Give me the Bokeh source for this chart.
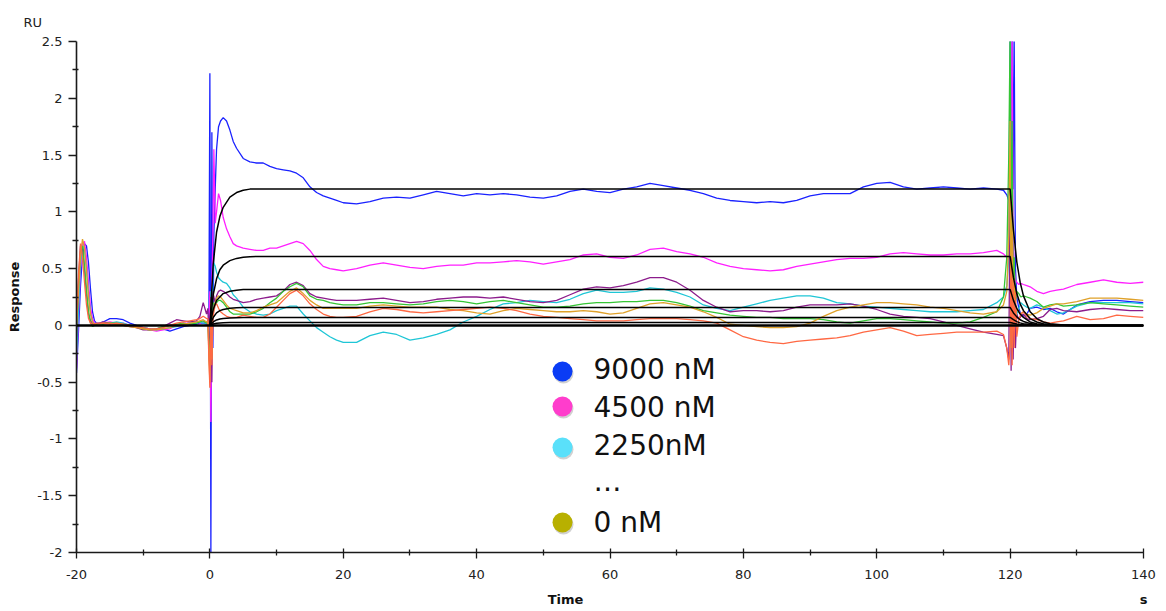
from bokeh.plotting import figure
from bokeh.models import Range1d, FixedTicker, Label, Span, BoxAnnotation, LinearAxis
from bokeh.embed import file_html
from bokeh.resources import INLINE

# ---------------- time grid (s) ----------------
T_PRE = [-20, -19.7, -19.4, -19.1, -18.8, -18.5, -18.2, -17.9, -17.6, -17.3,
         -17, -16.5, -16, -15, -14, -13, -12, -11, -10, -9,
         -8, -7, -6, -5, -4, -3, -2, -1.5, -1, -0.5]
T_INJ = [-0.3, -0.15, 0, 0.15, 0.3, 0.45, 0.6, 0.8, 1.0, 1.3,
         1.6, 2.0, 2.5, 3, 3.5, 4, 5, 6, 7, 8,
         9, 10, 11, 12, 13, 14, 15, 16, 17, 18,
         19, 20]
T_ASC = [22, 24, 26, 28, 30, 32, 34, 36, 38, 40,
         42, 44, 46, 48, 50, 52, 54, 56, 58, 60,
         62, 64, 66, 68, 70, 72, 74, 76, 78, 80,
         82, 84, 86, 88, 90, 92, 94, 96, 98, 100,
         102, 104, 106, 108, 110, 112, 114, 116, 118]
T_DIS = [119, 119.5, 119.8, 120, 120.15, 120.3, 120.45, 120.6, 120.8, 121,
         121.3, 121.6, 122, 122.5, 123, 124, 125, 126, 127, 128,
         130, 132, 134, 136, 138, 140]
TIME = T_PRE + T_INJ + T_ASC + T_DIS

# ---------------- measured responses (RU) ----------------
BLUE = ([-0.42, -0.05, 0.35, 0.62, 0.72, 0.7, 0.55, 0.32, 0.12, 0.04,
         0.02, 0.02, 0.03, 0.06, 0.06, 0.05, 0.02, 0.0, -0.02, -0.03,
         -0.04, -0.03, -0.05, -0.03, -0.01, 0.0, 0.01, 0.02, 0.02, 0.01] +
        [0.02, 0.0, 2.22, -2.0, 1.7, -0.2, 0.8, 1.2, 1.55, 1.75,
         1.8, 1.83, 1.8, 1.72, 1.62, 1.56, 1.47, 1.44, 1.43, 1.43,
         1.4, 1.38, 1.37, 1.36, 1.34, 1.3, 1.22, 1.17, 1.14, 1.12,
         1.1, 1.08] +
        [1.07, 1.09, 1.12, 1.13, 1.12, 1.15, 1.18, 1.16, 1.14, 1.16,
         1.15, 1.16, 1.15, 1.13, 1.12, 1.14, 1.18, 1.2, 1.18, 1.17,
         1.2, 1.22, 1.25, 1.23, 1.21, 1.19, 1.16, 1.12, 1.1, 1.09,
         1.08, 1.09, 1.08, 1.1, 1.14, 1.16, 1.16, 1.16, 1.22, 1.25,
         1.26, 1.22, 1.2, 1.21, 1.22, 1.21, 1.2, 1.21, 1.2] +
        [1.19, 1.15, 1.1, 1.0, 0.9, 2.6, 1.2, 2.6, 0.5, 0.25,
         0.15, 0.1, 0.08, 0.1, 0.15, 0.16, 0.14, 0.15, 0.12, 0.1,
         0.18, 0.21, 0.22, 0.22, 0.21, 0.2])

MAGENTA = ([-0.38, 0.1, 0.5, 0.72, 0.74, 0.6, 0.38, 0.16, 0.06, 0.02,
            0.0, 0.01, 0.02, 0.03, 0.02, 0.02, 0.0, -0.02, -0.03, -0.04,
            -0.05, -0.04, -0.03, 0.0, 0.02, 0.02, 0.03, 0.02, 0.03, 0.02] +
           [0.05, 0.0, 0.3, -0.85, 0.4, 0.8, 1.55, 0.9, 1.0, 1.16,
            1.1, 0.95, 0.85, 0.78, 0.72, 0.7, 0.68, 0.67, 0.66, 0.66,
            0.68, 0.68, 0.7, 0.72, 0.74, 0.72, 0.66, 0.58, 0.52, 0.5,
            0.49, 0.48] +
           [0.5, 0.53, 0.55, 0.53, 0.51, 0.5, 0.52, 0.53, 0.53, 0.55,
            0.55, 0.56, 0.57, 0.56, 0.54, 0.56, 0.58, 0.62, 0.63, 0.6,
            0.59, 0.62, 0.67, 0.68, 0.65, 0.63, 0.6, 0.55, 0.52, 0.5,
            0.49, 0.48, 0.49, 0.52, 0.54, 0.56, 0.58, 0.59, 0.59, 0.6,
            0.63, 0.64, 0.63, 0.62, 0.62, 0.63, 0.63, 0.64, 0.66] +
           [0.63, 0.6, 0.55, 2.6, 0.3, 2.6, 0.8, 0.5, 0.4, 0.38,
            0.36, 0.37, 0.36, 0.35, 0.34, 0.3, 0.28, 0.3, 0.31, 0.32,
            0.36, 0.38, 0.4, 0.38, 0.37, 0.38])

CYAN = ([-0.3, 0.15, 0.55, 0.7, 0.66, 0.5, 0.28, 0.1, 0.03, 0.01,
         0.0, 0.01, 0.02, 0.02, 0.03, 0.02, 0.0, -0.01, -0.02, -0.03,
         -0.04, -0.03, -0.02, -0.01, 0.01, 0.02, 0.02, 0.03, 0.02, 0.02] +
        [0.02, -0.1, -0.45, 0.3, -0.2, 0.5, 0.55, 0.52, 0.47, 0.42,
         0.4, 0.38, 0.37, 0.33, 0.27, 0.24, 0.16, 0.12, 0.1, 0.09,
         0.1, 0.13, 0.15, 0.17, 0.17, 0.1, 0.04, -0.02, -0.06, -0.1,
         -0.13, -0.15] +
        [-0.15, -0.09, -0.06, -0.08, -0.13, -0.11, -0.08, -0.04, 0.03, 0.08,
         0.14, 0.19, 0.2, 0.22, 0.21, 0.2, 0.23, 0.28, 0.31, 0.29,
         0.29, 0.3, 0.33, 0.32, 0.29, 0.25, 0.18, 0.15, 0.13, 0.16,
         0.19, 0.22, 0.24, 0.26, 0.26, 0.24, 0.2, 0.19, 0.17, 0.16,
         0.15, 0.14, 0.13, 0.12, 0.12, 0.12, 0.13, 0.14, 0.2] +
        [0.25, 0.35, 0.6, 2.6, 1.0, 0.3, 0.2, 0.1, 0.05, 0.1,
         0.15, 0.2, 0.18, 0.16, 0.15, 0.18, 0.16, 0.13, 0.1, 0.11,
         0.17, 0.2, 0.2, 0.2, 0.2, 0.19])

PURPLE = ([-0.1, 0.4, 0.7, 0.68, 0.5, 0.28, 0.1, 0.04, 0.02, 0.01,
           0.01, 0.02, 0.03, 0.02, 0.01, 0.0, -0.01, -0.02, -0.04, -0.04,
           -0.03, -0.01, 0.02, 0.05, 0.04, 0.03, 0.04, 0.08, 0.2, 0.1] +
          [0.15, -0.1, -0.3, 0.25, -0.5, 0.3, 0.25, 0.2, 0.26, 0.3,
           0.31, 0.3, 0.28, 0.25, 0.23, 0.22, 0.2, 0.21, 0.23, 0.24,
           0.25, 0.26, 0.3, 0.36, 0.38, 0.35, 0.28, 0.25, 0.24, 0.23,
           0.22, 0.22] +
          [0.22, 0.23, 0.24, 0.22, 0.2, 0.21, 0.23, 0.24, 0.25, 0.25,
           0.24, 0.25, 0.23, 0.21, 0.2, 0.22, 0.27, 0.32, 0.34, 0.33,
           0.35, 0.38, 0.42, 0.42, 0.38, 0.31, 0.22, 0.16, 0.12, 0.13,
           0.13, 0.12, 0.13, 0.16, 0.18, 0.18, 0.18, 0.19, 0.17, 0.14,
           0.1, 0.08, 0.07, 0.06, 0.03, 0.0, -0.03, -0.06, -0.08] +
          [-0.09, -0.2, -0.3, 1.2, -0.4, 0.8, -0.3, 0.2, -0.2, 0.1,
           0.05, 0.08, 0.1, 0.06, 0.05, 0.06, 0.08, 0.14, 0.15, 0.13,
           0.12, 0.14, 0.15, 0.14, 0.13, 0.13])

GREEN = ([-0.05, 0.35, 0.65, 0.7, 0.52, 0.3, 0.12, 0.02, -0.01, 0.0,
          0.01, 0.0, 0.01, 0.02, 0.02, 0.01, 0.0, -0.01, -0.03, -0.04,
          -0.03, -0.01, 0.0, 0.01, 0.02, 0.01, 0.02, 0.03, 0.04, 0.02] +
         [0.03, -0.2, -0.4, 0.15, -0.25, 0.2, 0.19, 0.18, 0.2, 0.22,
          0.22, 0.2, 0.16, 0.12, 0.1, 0.1, 0.1, 0.1, 0.12, 0.15,
          0.2, 0.24, 0.3, 0.34, 0.37, 0.34, 0.26, 0.23, 0.22, 0.2,
          0.19, 0.18] +
         [0.18, 0.2, 0.2, 0.19, 0.18, 0.19, 0.21, 0.22, 0.21, 0.19,
          0.21, 0.22, 0.2, 0.18, 0.16, 0.16, 0.17, 0.19, 0.2, 0.2,
          0.21, 0.21, 0.22, 0.22, 0.2, 0.17, 0.13, 0.11, 0.09, 0.08,
          0.07, 0.07, 0.06, 0.06, 0.06, 0.05, 0.03, 0.02, 0.04, 0.06,
          0.06, 0.05, 0.04, 0.03, 0.02, 0.02, 0.03, 0.07, 0.12] +
         [0.25, 0.6, 1.5, 2.6, 0.5, 1.8, 0.3, 0.6, 0.2, 0.3,
          0.28, 0.25, 0.26, 0.25, 0.24, 0.21, 0.16, 0.18, 0.19, 0.17,
          0.18, 0.2, 0.19, 0.18, 0.17, 0.16])

GOLD = ([0.0, 0.3, 0.62, 0.76, 0.68, 0.48, 0.25, 0.1, 0.03, 0.01,
         0.0, 0.01, 0.02, 0.02, 0.01, 0.0, -0.01, -0.02, -0.03, -0.04,
         -0.04, -0.03, -0.02, 0.0, 0.01, 0.02, 0.03, 0.04, 0.05, 0.03] +
        [0.04, -0.25, -0.5, 0.2, -0.3, 0.1, 0.16, 0.2, 0.24, 0.26,
         0.25, 0.22, 0.18, 0.15, 0.14, 0.13, 0.11, 0.11, 0.13, 0.16,
         0.18, 0.2, 0.25, 0.3, 0.33, 0.28, 0.22, 0.18, 0.15, 0.15,
         0.15, 0.15] +
        [0.15, 0.17, 0.18, 0.17, 0.16, 0.16, 0.16, 0.14, 0.13, 0.11,
         0.1, 0.13, 0.15, 0.14, 0.13, 0.12, 0.12, 0.13, 0.12, 0.1,
         0.11, 0.15, 0.19, 0.2, 0.18, 0.16, 0.12, 0.07, 0.01, 0.0,
         -0.01, -0.02, -0.02, -0.01, 0.02, 0.08, 0.13, 0.16, 0.18, 0.2,
         0.2, 0.19, 0.18, 0.16, 0.15, 0.13, 0.11, 0.1, 0.12] +
        [0.18, 0.3, 0.8, 1.8, -0.2, 1.0, 0.1, 0.4, 0.05, 0.15,
         0.12, 0.1, 0.12, 0.1, 0.09, 0.11, 0.15, 0.17, 0.19, 0.19,
         0.21, 0.24, 0.24, 0.24, 0.23, 0.22])

CORAL = ([0.05, 0.45, 0.72, 0.6, 0.38, 0.18, 0.06, 0.02, 0.01, 0.01,
          0.02, 0.02, 0.02, 0.01, 0.02, 0.01, 0.0, -0.01, -0.02, -0.03,
          -0.03, -0.02, 0.0, 0.02, 0.03, 0.04, 0.05, 0.06, 0.08, 0.06] +
         [0.06, -0.3, -0.55, 0.1, -0.35, 0.05, 0.12, 0.18, 0.19, 0.15,
          0.12, 0.1, 0.08, 0.07, 0.07, 0.07, 0.09, 0.08, 0.07, 0.07,
          0.1, 0.16, 0.22, 0.28, 0.31, 0.26, 0.19, 0.14, 0.1, 0.08,
          0.07, 0.07] +
         [0.08, 0.12, 0.15, 0.14, 0.12, 0.11, 0.12, 0.13, 0.14, 0.15,
          0.16, 0.15, 0.13, 0.1, 0.08, 0.07, 0.06, 0.05, 0.04, 0.04,
          0.04, 0.05, 0.06, 0.06, 0.06, 0.05, 0.04, 0.02, -0.04, -0.1,
          -0.13, -0.15, -0.16, -0.14, -0.13, -0.12, -0.11, -0.09, -0.06, -0.04,
          -0.02, -0.05, -0.09, -0.08, -0.07, -0.06, -0.06, -0.06, -0.05] +
         [-0.08, -0.2, -0.35, -0.15, 0.6, -0.35, 0.4, -0.2, 0.3, -0.1,
          0.05, 0.1, 0.12, 0.08, 0.06, 0.05, 0.03, 0.02, 0.03, 0.04,
          0.08, 0.05, 0.06, 0.09, 0.08, 0.07])

SERIES = [
    (BLUE, "#1a22ff"), (MAGENTA, "#ff1fff"), (CYAN, "#1fc6d6"),
    (PURPLE, "#8c1c8c"), (GREEN, "#35c535"), (GOLD, "#dfa12a"), (CORAL, "#ff6843"),
]

# ---------------- fitted curves (RU) ----------------
FIT_T = [0, 0.5, 1, 1.5, 2, 3, 4, 5, 6, 8, 10, 120,
         120.5, 121, 121.5, 122, 123, 124, 125, 126, 128, 130, 140]
FIT_A = [0, 0.54, 0.82, 0.96, 1.04, 1.13, 1.17, 1.19, 1.2, 1.2, 1.2, 1.2,
         0.84, 0.56, 0.38, 0.26, 0.12, 0.06, 0.03, 0.015, 0.004, 0, 0]
FIT_B = [0, 0.27, 0.41, 0.49, 0.53, 0.57, 0.59, 0.6, 0.605, 0.607, 0.607, 0.607,
         0.42, 0.28, 0.19, 0.13, 0.06, 0.03, 0.015, 0.008, 0.002, 0, 0]
FIT_C = [0, 0.14, 0.22, 0.25, 0.28, 0.3, 0.31, 0.315, 0.317, 0.317, 0.317, 0.317,
         0.22, 0.15, 0.1, 0.07, 0.03, 0.015, 0.008, 0.004, 0.001, 0, 0]
FIT_D = [0, 0.07, 0.11, 0.13, 0.14, 0.15, 0.155, 0.157, 0.158, 0.158, 0.158, 0.158,
         0.11, 0.075, 0.05, 0.035, 0.016, 0.008, 0.004, 0.002, 0.001, 0, 0]
FIT_E = [0, 0.03, 0.048, 0.056, 0.061, 0.066, 0.068, 0.069, 0.07, 0.07, 0.07, 0.07,
         0.05, 0.033, 0.022, 0.015, 0.007, 0.004, 0.002, 0.001, 0, 0, 0]
FIT_F = [0, 0.012, 0.018, 0.021, 0.023, 0.025, 0.026, 0.026, 0.026, 0.026, 0.026, 0.026,
         0.018, 0.012, 0.008, 0.006, 0.003, 0.001, 0.001, 0, 0, 0, 0]
FITS = [FIT_A, FIT_B, FIT_C, FIT_D, FIT_E, FIT_F]

# ---------------- axes ----------------
X_TICKS = [-20, 0, 20, 40, 60, 80, 100, 120, 140]
X_LABELS = ["-20", "0", "20", "40", "60", "80", "100", "120", "140"]
X_MINOR = [-10, 10, 30, 50, 70, 90, 110, 130]
Y_TICKS = [-2, -1.5, -1, -0.5, 0, 0.5, 1, 1.5, 2, 2.5]
Y_LABELS = ["-2", "-1.5", "-1", "-0.5", "0", "0.5", "1", "1.5", "2", "2.5"]
Y_MINOR = [-1.75, -1.25, -0.75, -0.25, 0.25, 0.75, 1.25, 1.75, 2.25]

# ---------------- legend ----------------
LEGEND_LABELS = ["9000 nM", "4500 nM", "2250nM", "\u2026", "0 nM"]
LEGEND_COLORS = ["#0a3cf5", "#ff3dcc", "#5ae0fa", None, "#b8b000"]

# layout (pixels)
W, H = 1166, 611
FL, FR, FT, FB = 76, 1143, 41, 552            # frame edges
LEG_DOT_X = 562                                 # legend dot centre
LEG_DOT_Y = [371, 406, 447, None, 522]
LEG_TXT_X = 593
LEG_TXT_Y = [369, 407, 445, 481, 522]
DOT_R = 10
TIME_TITLE_LEFT = 565                           # left edge of "Time"

FONT = "DejaVu Sans"

p = figure(width=W, height=H, x_range=Range1d(-20, 140), y_range=Range1d(-2, 2.5),
           output_backend="svg", toolbar_location=None,
           min_border_left=FL, min_border_right=W - FR, min_border_top=FT,
           min_border_bottom=H - FB)
p.outline_line_color = None
p.grid.visible = False

for ax in (p.xaxis[0], p.yaxis[0]):
    ax.axis_line_color = "#1a1a1a"
    ax.axis_line_width = 1.6
    ax.major_tick_line_color = "#1a1a1a"
    ax.minor_tick_line_color = "#1a1a1a"
    ax.major_tick_line_width = 1.3
    ax.minor_tick_line_width = 1.3
    ax.major_label_text_font = FONT
    ax.major_label_text_font_size = "13px"
    ax.major_label_text_color = "#222222"

p.xaxis.ticker = FixedTicker(ticks=X_TICKS, minor_ticks=X_MINOR)
p.xaxis.major_label_overrides = {t: s for t, s in zip(X_TICKS, X_LABELS)}
p.xaxis.major_tick_in = 4
p.xaxis.major_tick_out = 6
p.xaxis.minor_tick_in = 3
p.xaxis.minor_tick_out = 3
p.xaxis.major_label_standoff = 11

p.yaxis.ticker = FixedTicker(ticks=Y_TICKS, minor_ticks=Y_MINOR)
p.yaxis.major_label_overrides = {t: s for t, s in zip(Y_TICKS, Y_LABELS)}
p.yaxis.major_tick_in = 0
p.yaxis.major_tick_out = 8
p.yaxis.minor_tick_in = 2
p.yaxis.minor_tick_out = 4
p.yaxis.major_label_standoff = 6
p.yaxis.axis_label = "Response"
p.yaxis.axis_label_text_font = FONT
p.yaxis.axis_label_text_font_size = "13px"
p.yaxis.axis_label_text_font_style = "bold"
p.yaxis.axis_label_text_color = "#111111"
p.yaxis.axis_label_standoff = 12

# "Time" title and unit "s": a bare label-only axis below the main x axis,
# on a pixel-scaled helper range so the texts sit where the reference has them
p.extra_x_ranges = {"px": Range1d(FL, FR)}
lab_axis = LinearAxis(x_range_name="px",
                      ticker=FixedTicker(ticks=[TIME_TITLE_LEFT, FR], minor_ticks=[]),
                      major_label_overrides={TIME_TITLE_LEFT: "Time", FR: "s"},
                      axis_line_color=None, major_tick_line_color=None,
                      minor_tick_line_color=None, major_tick_in=0, major_tick_out=0,
                      major_label_standoff=10, major_label_text_align="left",
                      major_label_text_font=FONT, major_label_text_font_size="13px",
                      major_label_text_font_style="bold", major_label_text_color="#111111")
p.add_layout(lab_axis, "below")

# "RU" unit label as title
p.title.text = "RU"
p.title.align = "left"
p.title.offset = 23 - FL
p.title.standoff = 23
p.title.text_font = FONT
p.title.text_font_size = "13px"
p.title.text_font_style = "normal"
p.title.text_color = "#222222"

# measured curves
for vals, col in SERIES:
    p.line(TIME, vals, line_color=col, line_width=1.3)

# fitted curves + zero baseline
for f in FITS:
    p.line(FIT_T, f, line_color="black", line_width=1.5)
p.add_layout(Span(location=0, dimension="width", line_color="black", line_width=2.5))

# legend dots (with soft shadow) and labels, in screen units relative to frame
has_radius = "border_radius" in BoxAnnotation.properties()


def dot(cx, cy, r, color, alpha):
    kw = dict(left=cx - r - FL, right=cx + r - FL, bottom=FB - (cy + r), top=FB - (cy - r),
              left_units="screen", right_units="screen", top_units="screen",
              bottom_units="screen", fill_color=color, fill_alpha=alpha, line_color=None)
    if has_radius:
        kw["border_radius"] = int(r)
    p.add_layout(BoxAnnotation(**kw))


for lab, col, dy, ty in zip(LEGEND_LABELS, LEGEND_COLORS, LEG_DOT_Y, LEG_TXT_Y):
    if col is not None:
        dot(LEG_DOT_X + 1, dy + 2, DOT_R, "#7a7a7a", 0.35)
        dot(LEG_DOT_X, dy, DOT_R, col, 1.0)
    p.add_layout(Label(x=LEG_TXT_X - FL, y=FB - ty, x_units="screen", y_units="screen",
                       text=lab, text_align="left", text_baseline="middle",
                       text_font=FONT, text_font_size="28px", text_color="#111111"))

open("out.html", "w").write(file_html(p, INLINE))
